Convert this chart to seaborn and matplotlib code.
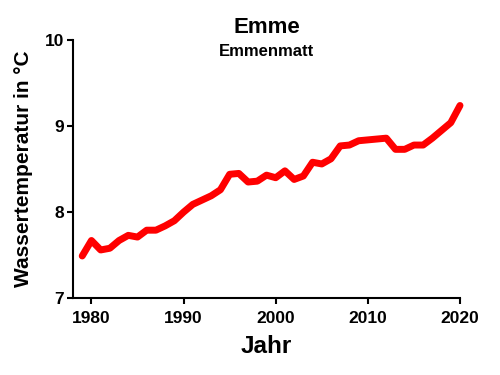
import matplotlib
matplotlib.use("Agg")
import matplotlib.pyplot as plt
import seaborn as sns
import pandas as pd

years = list(range(1979, 2021))
temps = [7.49, 7.67, 7.56, 7.58, 7.67, 7.73, 7.71, 7.79, 7.79, 7.84,
         7.90, 8.00, 8.09, 8.14, 8.19, 8.26, 8.44, 8.45, 8.35, 8.36,
         8.43, 8.40, 8.48, 8.38, 8.42, 8.58, 8.56, 8.62, 8.77, 8.78,
         8.83, 8.84, 8.85, 8.86, 8.73, 8.73, 8.78, 8.78, 8.86, 8.95,
         9.04, 9.24]
xticks = [1980, 1990, 2000, 2010, 2020]
yticks = [7, 8, 9, 10]
title = "Emme"
subtitle = "Emmenmatt"
xlabel = "Jahr"
ylabel = "Wassertemperatur in °C"

df = pd.DataFrame({"Jahr": years, "Temp": temps})

sns.set_style("ticks")
plt.rcParams["font.family"] = ["Liberation Sans", "DejaVu Sans"]
plt.rcParams["font.weight"] = "bold"
plt.rcParams["text.color"] = "black"
plt.rcParams["axes.labelcolor"] = "black"
plt.rcParams["xtick.color"] = "black"
plt.rcParams["ytick.color"] = "black"

fig = plt.figure(figsize=(5, 3.75), dpi=100)
ax = fig.add_axes([0.146, 0.205, 0.774, 0.688])

sns.lineplot(data=df, x="Jahr", y="Temp", ax=ax, color="#ff0000",
             linewidth=5, solid_capstyle="round", solid_joinstyle="round")
for ln in ax.lines:
    ln.set_clip_on(False)

ax.set_xlim(1978, 2020)
ax.set_ylim(7, 10)
ax.set_xticks(xticks)
ax.set_yticks(yticks)
ax.set_xticklabels([str(t) for t in xticks], fontsize=12.5, fontweight="bold", color="black")
ax.set_yticklabels([str(t) for t in yticks], fontsize=12.5, fontweight="bold", color="black")
ax.tick_params(axis="both", width=1.5, length=4.5, color="black")
ax.tick_params(axis="x", pad=5)
ax.tick_params(axis="y", pad=2)
for s in ["left", "bottom"]:
    ax.spines[s].set_linewidth(1.5)
    ax.spines[s].set_color("black")
for s in ["top", "right"]:
    ax.spines[s].set_visible(False)

ax.set_xlabel(xlabel, fontsize=17.5, fontweight="bold", labelpad=6, color="black")
ax.set_ylabel(ylabel, fontsize=15, fontweight="bold", labelpad=8, color="black")

fig.text(0.533, 0.912, title, ha="center", va="baseline", fontsize=16, fontweight="bold", color="black")
fig.text(0.533, 0.851, subtitle, ha="center", va="baseline", fontsize=12, fontweight="bold", color="black")

fig.savefig("out.png", dpi=100)
